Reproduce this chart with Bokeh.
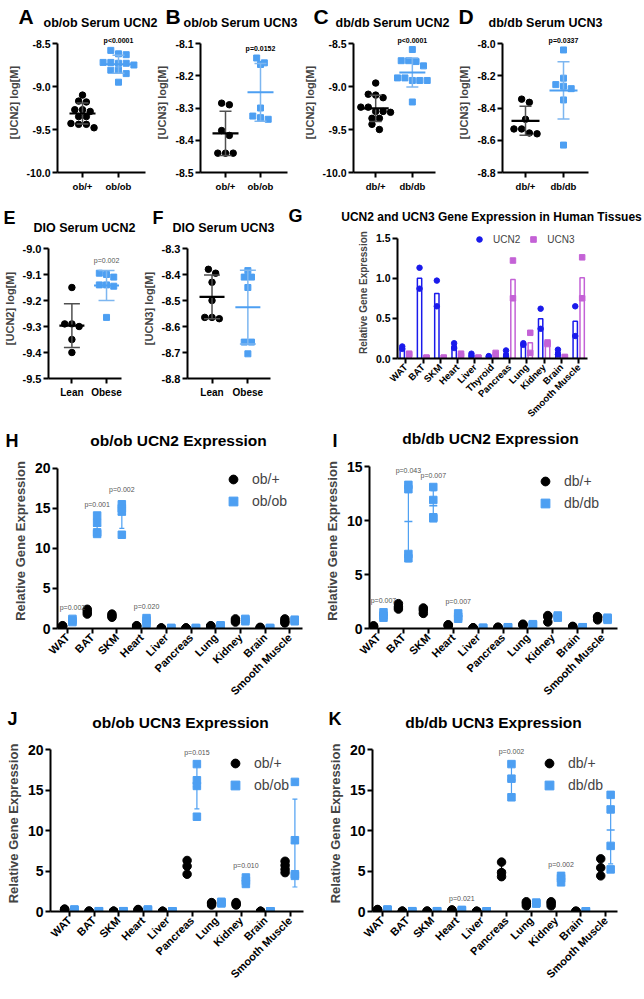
import numpy as np
from bokeh.plotting import figure
from bokeh.models import Range1d, FixedTicker, PrintfTickFormatter, Label, Legend, LegendItem
from bokeh.layouts import row, column
from bokeh.embed import file_html
from bokeh.resources import INLINE

FONT = "Liberation Sans"
BLACK = "#000000"
BLUE = "#4d9ff2"
BLUE_ERR = "#7db6f0"
GREY_ERR = "#505050"
UCN2_COLOR = "#1a1aeb"
UCN3_COLOR = "#c462d6"
P_GREY = "#555555"

# ---------------- data: serum panels (log[M]) ----------------
a_groups = ["ob/+", "ob/ob"]
a_ctrl = [-9.10, -9.17, -9.18, -9.27, -9.27, -9.29, -9.35, -9.35, -9.43, -9.44, -9.44, -9.48]
a_mut = [-8.58, -8.62, -8.63, -8.72, -8.72, -8.73, -8.73, -8.75, -8.81, -8.81, -8.85, -8.95]
a_p = "p<0.0001"
a_yticks = [-10.0, -9.5, -9.0, -8.5]

b_groups = ["ob/+", "ob/ob"]
b_ctrl = [-8.285, -8.29, -8.37, -8.385, -8.44, -8.44, -8.44]
b_mut = [-8.145, -8.16, -8.165, -8.30, -8.325, -8.33, -8.335]
b_p = "p=0.0152"
b_yticks = [-8.5, -8.4, -8.3, -8.2, -8.1]

c_groups = ["db/+", "db/db"]
c_ctrl = [-8.96, -9.09, -9.10, -9.13, -9.24, -9.24, -9.29, -9.29, -9.30, -9.37, -9.37, -9.44, -9.50]
c_mut = [-8.57, -8.70, -8.70, -8.71, -8.76, -8.90, -8.90, -8.93, -8.93, -8.93, -9.18]
c_p = "p<0.0001"
c_yticks = [-10.0, -9.5, -9.0, -8.5]

d_groups = ["db/+", "db/db"]
d_ctrl = [-8.345, -8.365, -8.47, -8.53, -8.53, -8.555, -8.56]
d_mut = [-8.04, -8.215, -8.255, -8.265, -8.28, -8.35, -8.63]
d_p = "p=0.0337"
d_yticks = [-8.8, -8.6, -8.4, -8.2, -8.0]

e_groups = ["Lean", "Obese"]
e_ctrl = [-9.15, -9.29, -9.29, -9.30, -9.35, -9.40]
e_mut = [-9.095, -9.10, -9.11, -9.14, -9.14, -9.145, -9.265]
e_p = "p=0.002"
e_yticks = [-9.5, -9.4, -9.3, -9.2, -9.1, -9.0]

f_groups = ["Lean", "Obese"]
f_ctrl = [-8.38, -8.395, -8.43, -8.50, -8.565, -8.565, -8.57]
f_mut = [-8.385, -8.41, -8.41, -8.45, -8.66, -8.66, -8.705]
f_p = None
f_yticks = [-8.8, -8.7, -8.6, -8.5, -8.4, -8.3]

# ---------------- data: human tissues (G) ----------------
g_tissues = ["WAT", "BAT", "SKM", "Heart", "Liver", "Thyroid", "Pancreas", "Lung",
             "Kidney", "Brain", "Smooth Muscle"]
g_ucn2 = [[0.15, 0.12], [1.13, 0.87], [0.97, 0.65], [0.19, 0.13], [0.06, 0.03], [0.03, 0.02],
          [0.10, 0.03], [0.19, 0.17], [0.62, 0.37], [0.11, 0.05], [0.65, 0.28]]
g_ucn3 = [[0.06, 0.05], [0.01, 0.01], [0.01, 0.01], [0.06, 0.03], [0.01, 0.01], [0.07, 0.04],
          [1.22, 0.75], [0.32, 0.07], [0.20, 0.18], [0.02, 0.01], [1.26, 0.75]]
g_yticks = [0.0, 0.5, 1.0, 1.5]

# ---------------- data: mouse tissues (H-K) ----------------
m_tissues = ["WAT", "BAT", "SKM", "Heart", "Liver", "Pancreas", "Lung", "Kidney", "Brain",
             "Smooth Muscle"]

h_ctrl = [[0.25, 0.3, 0.35], [1.8, 2.1, 2.4], [1.4, 1.6, 1.8], [0.25, 0.3, 0.35], [0.03, 0.05, 0.07],
          [0.03, 0.05, 0.07], [0.25, 0.3, 0.35], [0.8, 1.0, 1.2], [0.05, 0.1, 0.15], [0.7, 0.9, 1.2]]
h_mut = [[0.8, 1.0, 1.2], [14.1, 13.2, 12.0, 11.8], [15.5, 15.0, 14.6, 11.7], [0.6, 1.0, 1.3],
         [0.03, 0.05, 0.07], [0.03, 0.05, 0.07], [0.25, 0.3, 0.4], [0.9, 1.1, 1.2],
         [0.03, 0.05, 0.07], [0.9, 1.0, 1.1]]
h_p = {0: "p=0.002", 1: "p=0.001", 2: "p=0.002", 3: "p=0.020"}
h_yticks = [0, 5, 10, 15, 20]

i_ctrl = [[0.15, 0.2, 0.25], [1.8, 2.0, 2.3], [1.4, 1.7, 1.9], [0.25, 0.3, 0.35], [0.03, 0.05, 0.07],
          [0.08, 0.1, 0.12], [0.3, 0.35, 0.4], [0.6, 1.1, 1.2], [0.1, 0.15, 0.2], [0.8, 1.0, 1.1]]
i_mut = [[1.0, 1.2, 1.5], [13.3, 12.9, 6.9, 6.5], [13.1, 11.9, 10.3, 10.2], [0.9, 1.1, 1.4],
         [0.03, 0.05, 0.07], [0.08, 0.1, 0.12], [0.3, 0.35, 0.4], [1.0, 1.1, 1.2],
         [0.08, 0.1, 0.12], [0.8, 0.9, 1.0]]
i_p = {0: "p=0.007", 1: "p=0.043", 2: "p=0.007", 3: "p=0.007"}
i_yticks = [0, 5, 10, 15]

j_ctrl = [[0.2, 0.25, 0.3], [0.02, 0.03, 0.04], [0.02, 0.03, 0.04], [0.15, 0.2, 0.25],
          [0.01, 0.02, 0.03], [4.6, 5.6, 6.3], [0.8, 1.0, 1.1], [0.8, 0.95, 1.1],
          [0.01, 0.02, 0.03], [4.8, 5.2, 5.7, 6.2]]
j_mut = [[0.15, 0.2, 0.25], [0.02, 0.03, 0.04], [0.02, 0.03, 0.04], [0.15, 0.2, 0.25],
         [0.01, 0.02, 0.03], [11.7, 15.5, 16.2, 18.2], [1.0, 1.1, 1.2], [3.4, 3.8, 4.2],
         [0.01, 0.02, 0.03], [4.4, 4.6, 8.8, 16.0]]
j_p = {5: "p=0.015", 7: "p=0.010"}
j_yticks = [0, 5, 10, 15, 20]

k_ctrl = [[0.15, 0.2, 0.25], [0.02, 0.03, 0.04], [0.02, 0.03, 0.04], [0.1, 0.15, 0.2],
          [0.01, 0.02, 0.03], [4.3, 4.8, 6.1], [0.7, 1.0, 1.2], [0.7, 1.0, 1.2],
          [0.01, 0.02, 0.03], [4.4, 5.4, 6.5]]
k_mut = [[0.15, 0.2, 0.25], [0.02, 0.03, 0.04], [0.02, 0.03, 0.04], [0.1, 0.15, 0.2],
         [0.01, 0.02, 0.03], [14.1, 16.4, 18.2], [1.0, 1.0, 1.1], [3.6, 4.1, 4.4],
         [0.01, 0.02, 0.03], [5.2, 8.1, 12.6, 14.4]]
k_p = {3: "p=0.021", 5: "p=0.002", 7: "p=0.002"}
k_yticks = [0, 5, 10, 15, 20]


# ---------------- helpers ----------------
def base_fig(fig_lr, row_tb, frame, xr, yr):
    fl, fr, ft, fb = frame
    p = figure(width=fig_lr[1] - fig_lr[0], height=row_tb[1] - row_tb[0],
               x_range=Range1d(*xr), y_range=Range1d(*yr),
               min_border_left=fl - fig_lr[0], min_border_right=fig_lr[1] - fr,
               min_border_top=ft - row_tb[0], min_border_bottom=row_tb[1] - fb,
               output_backend="svg", toolbar_location=None)
    p.outline_line_color = None
    p.xgrid.visible = False
    p.ygrid.visible = False
    return p


def ext_range(yticks, frame_top, tick_top, frame_bottom):
    lo, hi = min(yticks), max(yticks)
    ppy = (frame_bottom - tick_top) / (hi - lo)
    return (lo, hi + (tick_top - frame_top) / ppy), ppy


def style_axes(p, cats, yticks, yfmt, ylabel, ytick_size, ylabel_size, xtick_size, orient=None):
    for ax in (p.xaxis[0], p.yaxis[0]):
        ax.axis_line_width = 2
        ax.axis_line_color = BLACK
        ax.major_tick_line_width = 2
        ax.major_tick_line_color = BLACK
        ax.major_tick_in = 0
        ax.major_tick_out = 5
        ax.minor_tick_line_color = None
        ax.major_label_text_font = FONT
        ax.major_label_text_font_style = "bold"
        ax.major_label_text_color = BLACK
        ax.major_label_standoff = 2
    ya = p.yaxis[0]
    ya.ticker = FixedTicker(ticks=list(yticks))
    ya.bounds = (min(yticks), max(yticks))
    if yfmt:
        ya.formatter = PrintfTickFormatter(format=yfmt)
    ya.major_label_text_font_size = f"{ytick_size}px"
    ya.axis_label = ylabel
    ya.axis_label_text_font = FONT
    ya.axis_label_text_font_style = "bold"
    ya.axis_label_text_font_size = f"{ylabel_size}px"
    ya.axis_label_standoff = 4
    xa = p.xaxis[0]
    xa.ticker = FixedTicker(ticks=list(range(len(cats))))
    xa.major_label_overrides = {i: c for i, c in enumerate(cats)}
    xa.major_label_text_font_size = f"{xtick_size}px"
    xa.major_label_standoff = 3
    if orient is not None:
        xa.major_label_orientation = orient
        xa.major_label_standoff = 2


def header(lr, tb, items):
    w, h = lr[1] - lr[0], tb[1] - tb[0]
    p = figure(width=w, height=h, x_range=Range1d(0, w), y_range=Range1d(h, 0),
               x_axis_type=None, y_axis_type=None, min_border=0,
               output_backend="svg", toolbar_location=None)
    p.outline_line_color = None
    for (px, py, text, size, align) in items:
        p.add_layout(Label(x=px - lr[0], y=py - tb[0], text=text, text_font=FONT,
                           text_font_size=f"{size}px", text_font_style="bold",
                           text_align=align, text_baseline="middle", text_color=BLACK))
    return p


def swarm_offsets(vals, ppy, ppx, step):
    vals = np.asarray(vals, dtype=float)
    order = np.argsort(-vals, kind="stable")
    rows, cur = [], [order[0]]
    for idx in order[1:]:
        if abs(vals[idx] - vals[cur[0]]) * ppy < 0.75 * step:
            cur.append(idx)
        else:
            rows.append(cur)
            cur = [idx]
    rows.append(cur)
    offs = np.zeros(len(vals))
    for r in rows:
        n = len(r)
        for k, idx in enumerate(r):
            offs[idx] = (k - (n - 1) / 2) * step / ppx
    return offs


def err_bar(p, x, vals, color, mean_color, mean_len, cap_len, lw=1.5, mlw=2.2):
    vals = np.asarray(vals, dtype=float)
    m = vals.mean()
    s = vals.std(ddof=1) if len(vals) > 1 else 0.0
    p.segment(x0=[x], y0=[m - s], x1=[x], y1=[m + s], line_color=color, line_width=lw)
    p.scatter([x, x], [m - s, m + s], marker="dash", size=cap_len, line_color=color, line_width=lw)
    p.scatter([x], [m], marker="dash", size=mean_len, line_color=mean_color, line_width=mlw)
    return m, s


def serum_panel(fig_lr, row_tb, frame, tick_top, cats_px, groups, ctrl, mut, yticks, ylabel,
                ptext, pbold, ytick_size, xtick_size, mean_len, cap_len):
    fl, fr, ft, fb = frame
    c0, c1 = cats_px
    sp = c1 - c0
    xr = ((fl - c0) / sp, (fr - c0) / sp)
    yr, ppy = ext_range(yticks, ft, tick_top, fb)
    p = base_fig(fig_lr, row_tb, frame, xr, yr)
    style_axes(p, groups, yticks, "%.1f", ylabel, ytick_size, 11, xtick_size)
    step = 7.7
    oc = swarm_offsets(ctrl, ppy, sp, step)
    om = swarm_offsets(mut, ppy, sp, step)
    p.scatter(0 + oc, ctrl, marker="circle", size=6.5, color=BLACK)
    p.scatter(1 + om, mut, marker="square", size=6, color=BLUE)
    err_bar(p, 0, ctrl, GREY_ERR, BLACK, mean_len, cap_len)
    m, s = err_bar(p, 1, mut, BLUE_ERR, BLUE, mean_len, cap_len, mlw=2.0)
    if ptext:
        p.add_layout(Label(x=1, y=max(max(mut), m + s), y_offset=6, text=ptext,
                           text_font=FONT, text_font_size="7px",
                           text_font_style="bold" if pbold else "normal",
                           text_color=BLACK if pbold else P_GREY,
                           text_align="center", text_baseline="bottom"))
    return p


def expr_panel(fig_lr, row_tb, frame, tick_top, first_px, sp, ctrl, mut, yticks, pdict, names,
               legend_xy):
    fl, fr, ft, fb = frame
    xr = ((fl - first_px) / sp, (fr - first_px) / sp)
    yr, ppy = ext_range(yticks, ft, tick_top, fb)
    p = base_fig(fig_lr, row_tb, frame, xr, yr)
    style_axes(p, m_tissues, yticks, None, "Relative Gene Expression", 14, 13, 11,
               orient=np.pi / 4)
    d = 0.2
    xc = [i - d for i, v in enumerate(ctrl) for _ in v]
    yc = [x for v in ctrl for x in v]
    xm = [i + d for i, v in enumerate(mut) for _ in v]
    ym = [x for v in mut for x in v]
    rc = p.scatter(xc, yc, marker="circle", size=8.5, color=BLACK)
    rm = p.scatter(xm, ym, marker="square", size=7.5, color=BLUE)
    for i, v in enumerate(ctrl):
        err_bar(p, i - d, v, BLACK, BLACK, 8, 5, lw=1.2, mlw=1.5)
    for i, v in enumerate(mut):
        m, s = err_bar(p, i + d, v, BLUE, BLUE, 8, 5, lw=1.2, mlw=1.5)
        if i in pdict:
            p.add_layout(Label(x=i + d, y=max(max(v), m + s), y_offset=8, text=pdict[i],
                               text_font=FONT, text_font_size="7px", text_color=P_GREY,
                               text_align="center", text_baseline="bottom"))
    gx, gy = legend_xy
    rh = 22
    leg = Legend(items=[LegendItem(label=names[0], renderers=[rc]),
                        LegendItem(label=names[1], renderers=[rm])],
                 location=(gx - rh / 2 - fl, fb - (gy + 1.5 * rh) - 4),
                 orientation="vertical", background_fill_alpha=0, border_line_color=None,
                 label_text_font=FONT, label_text_font_size="14px",
                 glyph_width=rh, glyph_height=rh, label_height=rh, spacing=0,
                 padding=0, margin=0, label_standoff=8)
    p.add_layout(leg)
    return p


# ---------------- layout geometry (page pixels) ----------------
W = 642
H1 = (0, 30)
R1 = (30, 198)
H2EF = (198, 236)
R2EF = (236, 425)
H2G = (198, 224)
R2G = (224, 425)
H3 = (425, 451)
R3 = (451, 707)
H4 = (707, 733)
R4 = (733, 997)

hdr1 = header((0, W), H1, [(18, 15.5, "A", 21, "left"), (165, 15.5, "B", 21, "left"),
                           (313, 15.5, "C", 21, "left"), (458, 15.5, "D", 21, "left"),
                           (100, 22, "ob/ob Serum UCN2", 12.5, "center"),
                           (240, 22, "ob/ob Serum UCN3", 12.5, "center"),
                           (392, 22, "db/db Serum UCN2", 12.5, "center"),
                           (545, 22, "db/db Serum UCN3", 12.5, "center")])

pA = serum_panel((0, 153), R1, (57, 145, 32, 172), 43, (82, 118), a_groups, a_ctrl, a_mut,
                 a_yticks, "[UCN2] log[M]", a_p, True, 10.5, 9.5, 26, 12)
pB = serum_panel((153, 300), R1, (200, 287, 32, 172), 43, (225, 260), b_groups, b_ctrl, b_mut,
                 b_yticks, "[UCN3] log[M]", b_p, True, 10.5, 9.5, 26, 12)
pC = serum_panel((300, 455), R1, (350, 435, 32, 172), 43, (373, 411), c_groups, c_ctrl, c_mut,
                 c_yticks, "[UCN2] log[M]", c_p, True, 10.5, 9.5, 26, 12)
pD = serum_panel((455, W), R1, (502, 588, 32, 172), 43, (525, 563), d_groups, d_ctrl, d_mut,
                 d_yticks, "[UCN3] log[M]", d_p, True, 10.5, 9.5, 28, 12)

hdrEF = header((0, 280), H2EF, [(3, 217, "E", 18, "left"), (152, 217, "F", 18, "left"),
                                (84, 227, "DIO Serum UCN2", 12.5, "center"),
                                (223, 227, "DIO Serum UCN3", 12.5, "center")])
pE = serum_panel((0, 139), R2EF, (43, 121, 238, 378), 248, (68, 105), e_groups, e_ctrl, e_mut,
                 e_yticks, "[UCN2] log[M]", e_p, False, 11, 10, 25, 16)
pF = serum_panel((139, 280), R2EF, (182, 270, 238, 378), 248, (208, 246), f_groups, f_ctrl, f_mut,
                 f_yticks, "[UCN3] log[M]", f_p, False, 11, 10, 25, 16)

# ---- G: human tissues ----
hdrG = header((280, W), H2G, [(288, 215, "G", 18, "left"),
                              (491, 216, "UCN2 and UCN3 Gene Expression in Human Tissues", 12,
                               "center")])
gframe = (397, 587, 226, 363)
g_first, g_sp = 405.2, 17.3
g_yr, _ = ext_range(g_yticks, gframe[2], 238, gframe[3])
pG = base_fig((280, W), R2G, gframe,
              ((gframe[0] - g_first) / g_sp, (gframe[1] - g_first) / g_sp), g_yr)
style_axes(pG, g_tissues, g_yticks, "%.1f", "Relative Gene Expression", 10.5, 10, 9.5,
           orient=np.pi / 4)
gx = np.arange(len(g_tissues))
gd = 0.2
pG.vbar(x=gx - gd, top=[np.mean(v) for v in g_ucn2], bottom=0, width=0.25,
        fill_color="white", line_color=UCN2_COLOR, line_width=1.5)
pG.vbar(x=gx + gd, top=[np.mean(v) for v in g_ucn3], bottom=0, width=0.25,
        fill_color="white", line_color=UCN3_COLOR, line_width=1.5)
r2 = pG.scatter([i - gd for i, v in enumerate(g_ucn2) for _ in v], [x for v in g_ucn2 for x in v],
                marker="circle", size=5.5, color=UCN2_COLOR)
r3 = pG.scatter([i + gd for i, v in enumerate(g_ucn3) for _ in v], [x for v in g_ucn3 for x in v],
                marker="square", size=5.5, color=UCN3_COLOR)
gleg = Legend(items=[LegendItem(label="UCN2", renderers=[r2]), LegendItem(label="UCN3", renderers=[r3])],
              location=(479 - 7 - gframe[0], gframe[3] - (238 + 7) - 6), orientation="horizontal",
              background_fill_alpha=0, border_line_color=None, label_text_font=FONT,
              label_text_font_size="10px", glyph_width=14, glyph_height=14, label_height=14,
              spacing=6, padding=0, margin=0, label_standoff=7)
pG.add_layout(gleg)

# ---- H-K: mouse tissues ----
hdr3 = header((0, W), H3, [(5, 440, "H", 18, "left"), (332, 440, "I", 18, "left"),
                           (178, 440, "ob/ob UCN2 Expression", 15.5, "center"),
                           (490, 438, "db/db UCN2 Expression", 15.5, "center")])
pH = expr_panel((0, 320), R3, (57, 302, 453, 631), 468, 67, 24.7, h_ctrl, h_mut, h_yticks, h_p,
                ["ob/+", "ob/ob"], (233, 478))
pI = expr_panel((320, W), R3, (369, 617, 453, 628), 466, 378, 24.9, i_ctrl, i_mut, i_yticks, i_p,
                ["db/+", "db/db"], (545, 477))

hdr4 = header((0, W), H4, [(7, 718, "J", 18, "left"), (328, 718, "K", 18, "left"),
                           (180, 722, "ob/ob UCN3 Expression", 15.5, "center"),
                           (493, 722, "db/db UCN3 Expression", 15.5, "center")])
pJ = expr_panel((0, 320), R4, (50, 303, 735, 911), 749, 69, 24.5, j_ctrl, j_mut, j_yticks, j_p,
                ["ob/+", "ob/ob"], (235, 759))
pK = expr_panel((320, W), R4, (372, 617, 735, 911), 749, 382, 24.8, k_ctrl, k_mut, k_yticks, k_p,
                ["db/+", "db/db"], (549, 759))

layout = column(hdr1, row(pA, pB, pC, pD),
                row(column(hdrEF, row(pE, pF)), column(hdrG, row(pG))),
                hdr3, row(pH, pI),
                hdr4, row(pJ, pK))
open("out.html", "w").write(file_html(layout, INLINE))
